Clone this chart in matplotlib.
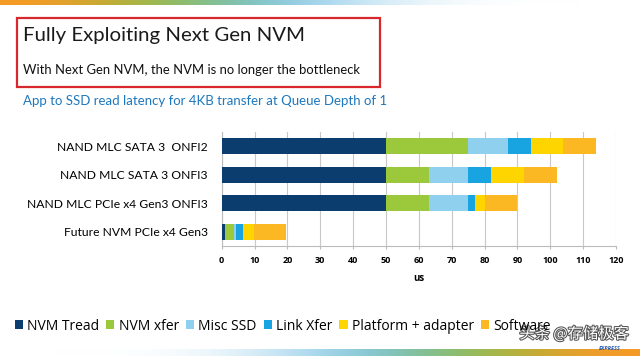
import numpy as np
import matplotlib
matplotlib.use('Agg')
import matplotlib.pyplot as plt
from matplotlib.patches import Rectangle
import matplotlib.patheffects as pe

# data (microseconds)
categories = ['NAND MLC SATA 3  ONFI2', 'NAND MLC SATA 3 ONFI3',
              'NAND MLC PCIe x4 Gen3 ONFI3', 'Future NVM PCIe x4 Gen3']
series_names = ['NVM Tread', 'NVM xfer', 'Misc SSD', 'Link Xfer',
                'Platform + adapter', 'Software']
nvm_tread = [50, 50, 50, 1.0]
nvm_xfer = [25, 13, 13, 2.7]
misc_ssd = [12, 12, 12, 0.8]
link_xfer = [7, 7, 2, 2.0]
platform = [10, 10, 3, 3.2]
software = [10, 10, 10, 10]
colors = ['#0b3d6e', '#9cc83c', '#8ed0ee', '#18a4e0', '#ffd500', '#fbb823']
xticks = np.arange(0, 121, 10)

W, H = 640, 356
fig = plt.figure(figsize=(W / 100, H / 100), dpi=100)
font = 'Open Sans'
tfont = 'Lato'

def fx(px):
    return px / W

def fy(py):
    return 1 - py / H

# gradient bands top and bottom
grad_top = np.array([[0.98, 0.60, 0.15], [0.55, 0.75, 0.25], [0.45, 0.75, 0.90],
                     [0.85, 0.93, 0.97], [1, 1, 1], [1, 1, 1]])
bar_top = fig.add_axes([0, fy(5), 1, 5 / H])
bar_top.imshow(grad_top[np.newaxis, :, :], aspect='auto', interpolation='bicubic')
bar_top.axis('off')
grad_bot = grad_top[::-1]
bar_bot = fig.add_axes([0, 0, 1, 7 / H])
bar_bot.imshow(grad_bot[np.newaxis, :, :], aspect='auto', interpolation='bicubic')
bar_bot.axis('off')

# titles
fig.text(fx(23), fy(35), 'Fully Exploiting Next Gen NVM', fontsize=14.7, family=tfont,
         color='#1a1a1a', va='center', ha='left')
fig.text(fx(23), fy(70), 'With Next Gen NVM, the NVM is no longer the bottleneck',
         fontsize=9.4, family=tfont, color='#111111', va='center', ha='left')
fig.add_artist(Rectangle((fx(17), fy(87)), fx(380 - 17), (87 - 18) / H,
                         transform=fig.transFigure, fill=False,
                         edgecolor='#d9272e', linewidth=1.6))
fig.text(fx(23), fy(101), 'App to SSD read latency for 4KB transfer at Queue Depth of 1',
         fontsize=9.5, family=tfont, color='#1e78be', va='center', ha='left')

# chart
ax = fig.add_axes([fx(221.7), fy(246.3), fx(616 - 221.7), (246.3 - 131.7) / H])
y = np.arange(len(categories))
left = np.zeros(len(categories))
for name, vals, c in zip(series_names,
                         [nvm_tread, nvm_xfer, misc_ssd, link_xfer, platform, software],
                         colors):
    ax.barh(y, vals, left=left, height=0.56, color=c, label=name, zorder=3)
    left = left + np.array(vals)

ax.set_xlim(0, 120)
ax.set_ylim(3.5, -0.5)
ax.set_xticks(xticks)
ax.set_xticklabels([str(t) for t in xticks], fontsize=6.5, fontweight='bold', family=font)
ax.set_yticks(y)
ax.set_yticklabels(categories, fontsize=8.7, family=tfont)
ax.tick_params(axis='y', length=0, pad=10)
ax.tick_params(axis='x', length=2, color='#bbbbbb', pad=5)
ax.xaxis.grid(True, color='#c8c8c8', linewidth=0.8, zorder=0)
ax.set_xlabel('us', fontsize=7, fontweight='bold', family=font, labelpad=6)
for s in ['top', 'right']:
    ax.spines[s].set_visible(False)
ax.spines['left'].set_color('#bbbbbb')
ax.spines['bottom'].set_color('#bbbbbb')

handles, labels = ax.get_legend_handles_labels()
fig.legend(handles, labels, loc='center left', bbox_to_anchor=(fx(9), fy(326)),
           ncol=6, frameon=False, handlelength=0.6, handleheight=0.6,
           handletextpad=0.3, columnspacing=0.5, borderaxespad=0,
           prop={'family': font, 'size': 10})

# watermark
fig.text(fx(574), fy(334), '头条 @存储极客', fontsize=11, family=['Noto Sans CJK SC', 'DejaVu Sans'],
         color='white', ha='center', va='center',
         path_effects=[pe.withStroke(linewidth=1.5, foreground='#555555')])
fig.text(fx(610), fy(349), 'EXPRESS', fontsize=4, fontweight='bold', style='italic',
         color='#2a5db0', ha='center', va='center', family=font)

fig.savefig('out.png', dpi=100)
